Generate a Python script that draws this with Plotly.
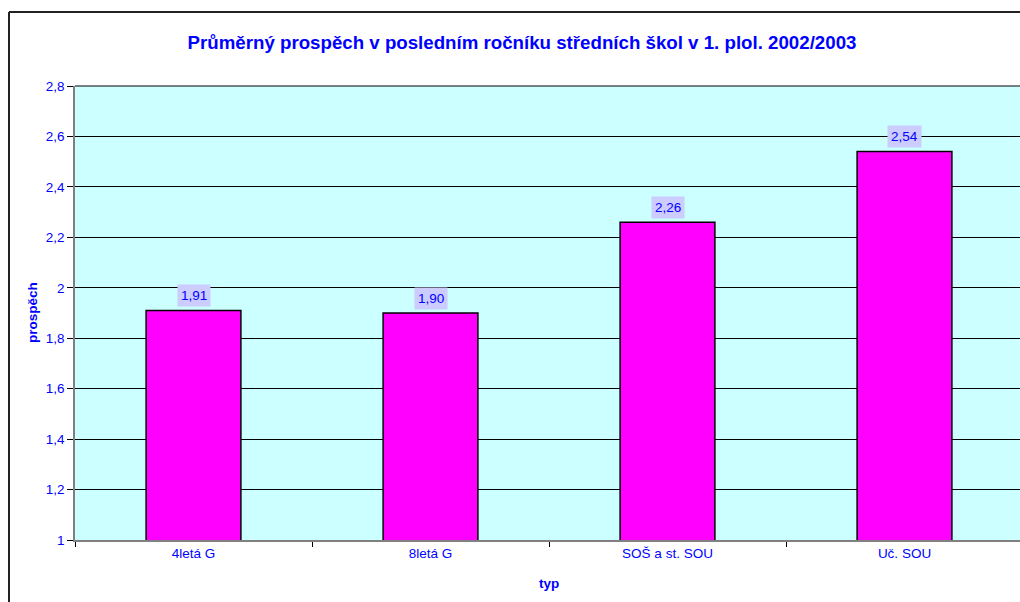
import plotly.graph_objects as go

categories = ["4letá G", "8letá G", "SOŠ a st. SOU", "Uč. SOU"]
values = [1.91, 1.90, 2.26, 2.54]
y_tickvals = [1, 1.2, 1.4, 1.6, 1.8, 2, 2.2, 2.4, 2.6, 2.8]
y_ticktext = ["1", "1,2", "1,4", "1,6", "1,8", "2", "2,2", "2,4", "2,6", "2,8"]
title_text = "Průměrný prospěch v posledním ročníku středních škol v 1. plol. 2002/2003"

BLUE = "#0000FF"
FONT = "Liberation Sans, Arial, sans-serif"

OFF = 0  # page body margin removed below
W, H = 1020, 602
L = 75 - OFF
T = 86 - OFF
B = H - (540 - OFF)
R = 0
pw = W - L - R
ph = H - T - B
cat_px = 237.0
x_end = -0.5 + pw / cat_px


def px_x(p):
    return (p - OFF - L) / pw


def px_y(p):
    return 1 - (p - OFF - T) / ph


fig = go.Figure()
fig.add_trace(go.Bar(
    x=categories, y=values, width=0.4,
    marker=dict(color="#FF00FF", line=dict(color="#000000", width=1.5)),
    hoverinfo="skip",
))

annotations = []
for c, v in zip(categories, values):
    annotations.append(dict(
        x=c, y=v, xref="x", yref="y",
        text=f"{v:.2f}".replace(".", ","),
        showarrow=False, yshift=15,
        bgcolor="#CCCCFF", borderpad=3,
        font=dict(family=FONT, size=13.5, color=BLUE),
    ))

shapes = [
    dict(type="line", xref="paper", yref="paper", x0=px_x(9), x1=px_x(9), y0=px_y(12), y1=px_y(620),
         line=dict(color="#222222", width=2)),
    dict(type="line", xref="paper", yref="paper", x0=px_x(9), x1=px_x(1040), y0=px_y(12), y1=px_y(12),
         line=dict(color="#222222", width=2)),
    dict(type="line", xref="paper", yref="paper", x0=0, x1=1.01, y0=1, y1=1,
         line=dict(color="#000000", width=1)),
]

fig.update_layout(
    width=W, height=H,
    margin=dict(l=L, r=R, t=T, b=B, pad=0),
    paper_bgcolor="#FFFFFF",
    plot_bgcolor="#CCFFFF",
    showlegend=False,
    hovermode=False,
    title=dict(text=f"<b>{title_text}</b>", x=(522 - OFF) / W, xanchor="center",
               y=1 - (42 - OFF) / H, yanchor="middle",
               font=dict(family=FONT, size=18.7, color=BLUE)),
    annotations=annotations + [
        dict(text="<b>prospěch</b>", x=px_x(32), y=px_y(313), xref="paper", yref="paper",
             xanchor="center", yanchor="middle",
             showarrow=False, textangle=-90, font=dict(family=FONT, size=13.5, color=BLUE)),
        dict(text="<b>typ</b>", x=px_x(549), y=px_y(583), xref="paper", yref="paper",
             xanchor="center", yanchor="middle",
             showarrow=False, font=dict(family=FONT, size=13.5, color=BLUE)),
    ],
    shapes=shapes,
    font=dict(family=FONT, size=13.5, color=BLUE),
)

fig.update_xaxes(
    type="category", range=[-0.5, x_end],
    showgrid=False, showline=True, linecolor="#808080", linewidth=1.5,
    ticks="outside", tickson="boundaries", ticklen=5, tickcolor="#000000", tickwidth=1,
    tickfont=dict(family=FONT, size=13.5, color=BLUE),
    zeroline=False,
)
fig.update_yaxes(
    range=[1, 2.8], tickvals=y_tickvals, ticktext=y_ticktext,
    showgrid=True, gridcolor="#000000", gridwidth=1,
    showline=True, linecolor="#808080", linewidth=1.5,
    ticks="outside", ticklen=6, tickcolor="#000000", tickwidth=1,
    tickfont=dict(family=FONT, size=13.5, color=BLUE),
    zeroline=False,
)

fig.write_html(
    "out.html",
    config={"displayModeBar": False},
    post_script="document.body.style.margin='0';document.body.style.overflow='hidden';",
)
